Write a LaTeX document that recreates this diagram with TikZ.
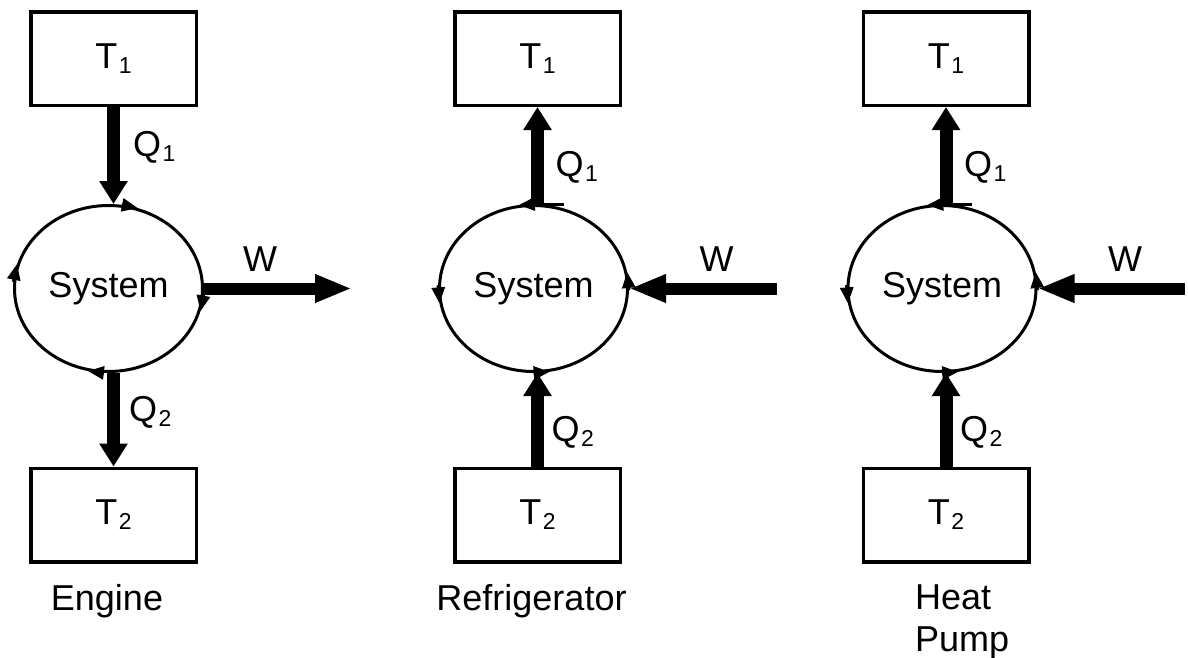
\documentclass[tikz,border=0pt]{standalone}
\usepackage{fontspec}
\setmainfont{Liberation Sans}
\usetikzlibrary{arrows.meta,shapes.geometric}
\newcommand{\lblfont}{\fontsize{36}{42}\selectfont}
\newcommand{\idx}[1]{\kern1.5pt\raisebox{-5pt}{\fontsize{23}{23}\selectfont #1}}

\begin{document}
\begin{tikzpicture}[
  x=1pt, y=-1pt,
  reservoir/.style={draw, line width=3.5pt, minimum width=165.5pt, minimum height=93.5pt, inner sep=0pt, font=\lblfont},
  system/.style={draw, ellipse, line width=3pt, minimum width=188pt, minimum height=166pt, inner sep=0pt, font=\lblfont},
  heatflow/.style={line width=13pt, -{Triangle[length=23pt,width=27pt]}},
  workflow/.style={line width=12pt, -{Triangle[length=37pt,width=26pt]}},
  cyc/.style={line width=3pt, -{Triangle[length=16pt,width=13pt]}},
  lab/.style={font=\lblfont, inner sep=0pt}
]
  \useasboundingbox (0,0) rectangle (1188,657);

  % Engine: heat in at T1, out at T2, work delivered
  \node[reservoir] (engT1) at (113.5,58.5) {T\idx{1}};
  \node[reservoir] (engT2) at (113.5,515) {T\idx{2}};
  \node[system] (engSys) at (108.5,288.5) {System};
  \coordinate (engW) at (352,288.5);
  \draw[heatflow] (engT1.south) -- (engT1.south |- engSys.north);
  \draw[heatflow] (engT1.south |- engSys.south) -- (engT2.north);
  \draw[workflow] (engSys.east) -- (engW);
  \draw[cyc] (engSys.81) -- (engSys.70);
  \draw[cyc] (engSys.-3) -- (engSys.-14);
  \draw[cyc] (engSys.267) -- (engSys.256);
  \draw[cyc] (engSys.176) -- (engSys.165);
  \node[lab, anchor=base west] (engQ1) at (133,156) {Q\idx{1}};
  \node[lab, anchor=base west] (engQ2) at (129,421) {Q\idx{2}};
  \node[lab, anchor=base west] (engWl) at (243,271) {W};
  \node[lab, anchor=base] (engName) at (107,610) {Engine};

  % Refrigerator and heat pump: same cycle run backwards
  \foreach \p/\cx/\wx in {ref/537.5/777, hp/946/1185} {
    \node[reservoir] (\p T1) at (\cx,58.5) {T\idx{1}};
    \node[reservoir] (\p T2) at (\cx,515) {T\idx{2}};
    \node[system] (\p Sys) at (\cx-4,288.5) {System};
    \coordinate (\p W) at (\wx,288.5);
    \draw[heatflow] (\p T1.south |- \p Sys.north) -- (\p T1.south);
    \draw[line width=3pt] (\p T1.south |- \p Sys.north) -- ++(26,0);
    \draw[heatflow] (\p T2.north) -- (\p T2.north |- \p Sys.south);
    \draw[workflow] (\p W) -- (\p Sys.east);
    \draw[cyc] (\p Sys.89) -- (\p Sys.100);
    \draw[cyc] (\p Sys.178) -- (\p Sys.189);
    \draw[cyc] (\p Sys.270) -- (\p Sys.281);
    \draw[cyc] (\p Sys.-1) -- (\p Sys.10);
    \node[lab, anchor=base west] (\p Q1) at (\cx+18,176) {Q\idx{1}};
    \node[lab, anchor=base west] (\p Q2) at (\cx+14,441) {Q\idx{2}};
    \node[lab, anchor=base west] (\p Wl) at (\cx+162,271) {W};
  }
  \node[lab, anchor=base] (refName) at (531.5,610) {Refrigerator};
  \node[lab, align=left, anchor=west] (hpName) at (915,622) {Heat\\Pump};
\end{tikzpicture}
\end{document}
